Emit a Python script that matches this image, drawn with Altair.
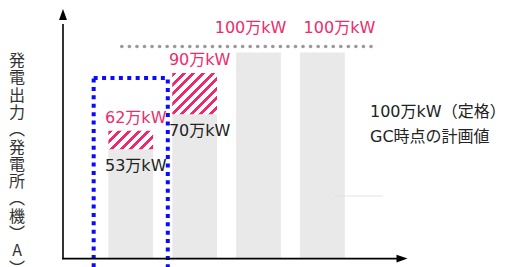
import math
import altair as alt
import pandas as pd

# ---- data ----
stages = ["①", "②", "③", "④"]
base_values = [53, 70, 100, 100]        # 万kW (grey part)
upper_values = [62, 90, None, None]     # 万kW (hatched top)
rated_output = 100                      # 万kW（定格）
focus_stage = "①"

df = pd.DataFrame({
    "stage": stages,
    "idx": list(range(1, len(stages) + 1)),
    "base": base_values,
    "upper": upper_values,
})
df["base_label"] = [f"{v}万kW" for v in base_values]
df["upper_label"] = [f"{v}万kW" if v is not None and not pd.isna(v) else "" for v in upper_values]

one = pd.DataFrame({"k": [0]})

# ---- scales (pixel ranges inside the 491x259 canvas) ----
X0, X1 = 55, 397.5
Y0, Y1 = 250.5, 44.5
xs = alt.Scale(domain=[-0.06, 5.3], range=[X0, X1], nice=False, zero=False)
ys = alt.Scale(domain=[0, 100], range=[Y0, Y1], nice=False, zero=False)
px_x = (X1 - X0) / 5.36
px_y = (Y0 - Y1) / 100.0
HALF = 0.35

PINK = "#EE2A6B"
GREY = "#E9E9E9"
BLUE = "#0A0AFF"
TXT = "#222222"
FONT = "DejaVu Sans, Noto Sans CJK JP"
CJK = "Noto Sans CJK JP"


def hatch(W, H, period=6.8, duty=0.42, off=0.02):
    k = (W + H) / (W * W + H * H)
    D = (W + H) / math.sqrt(2)
    p = period / D
    stops = []
    n = int(math.ceil(1 / p)) + 2
    for j in range(-1, n):
        s0 = j * p + off * p
        s1 = s0 + duty * p
        s2 = s0 + p
        for a, b, c in ((s0, s1, PINK), (s1, s2, "#FFFFFF")):
            a_ = min(max(a, 0.0), 1.0)
            b_ = min(max(b, 0.0), 1.0)
            if b_ > a_:
                stops.append(alt.GradientStop(offset=round(a_, 4), color=c))
                stops.append(alt.GradientStop(offset=round(b_, 4), color=c))
    return alt.LinearGradient(gradient="linear", stops=stops,
                              x1=0, y1=0, x2=round(k * W, 4), y2=round(k * H, 4))


base = alt.Chart(df).transform_calculate(
    x0=f"datum.idx - {HALF}", x1=f"datum.idx + {HALF}"
)

bars = base.mark_rect(color=GREY).encode(
    x=alt.X("x0:Q", scale=xs, axis=None),
    x2="x1:Q",
    y=alt.Y("base:Q", scale=ys, axis=None),
    y2=alt.datum(0),
)

hatch_layers = []
for i, (b, u) in enumerate(zip(base_values, upper_values)):
    if u is None:
        continue
    W = 2 * HALF * px_x
    H = (u - b) * px_y
    hatch_layers.append(
        base.transform_filter(f"datum.idx == {i + 1}").mark_rect(fill=hatch(W, H)).encode(
            x=alt.X("x0:Q", scale=xs, axis=None),
            x2="x1:Q",
            y=alt.Y("base:Q", scale=ys, axis=None),
            y2="upper:Q",
        )
    )

fi = stages.index(focus_stage) + 1
focus = alt.Chart(one).mark_rect(
    fill="white", fillOpacity=0, stroke=BLUE, strokeWidth=4, strokeDash=[4, 4.4]
).encode(
    x=alt.XDatum(fi - 0.58, scale=xs, axis=None),
    x2=alt.datum(fi + 0.58),
    y=alt.YDatum(87.6, scale=ys, axis=None),
    y2=alt.datum(-8),
)

rated_line = alt.Chart(one).mark_rule(
    color="#9A9A9A", strokeWidth=3.6, strokeDash=[0.1, 7.45], strokeCap="round", yOffset=-6
).encode(
    x=alt.XDatum(0.86, scale=xs, axis=None),
    x2=alt.datum(4.8),
    y=alt.YDatum(rated_output, scale=ys, axis=None),
)

lab_base = base.transform_filter("datum.upper != null").mark_text(
    font=FONT, fontSize=16, color=TXT, align="center", baseline="middle", dx=5, dy=17
).encode(
    x=alt.X("idx:Q", scale=xs, axis=None),
    y=alt.Y("base:Q", scale=ys, axis=None),
    text="base_label:N",
)

lab_upper = base.transform_filter("datum.upper != null").mark_text(
    font=FONT, fontSize=16, color=PINK, align="center", baseline="middle", dx=5, dy=-13
).encode(
    x=alt.X("idx:Q", scale=xs, axis=None),
    y=alt.Y("upper:Q", scale=ys, axis=None),
    text="upper_label:N",
)

# labels of the full-output stages, nudged apart as in the reference
rated_label_dx = {3: -8, 4: 17}
lab_rated = [
    base.transform_filter(f"datum.idx == {k}").mark_text(
        font=FONT, fontSize=16, color=PINK, align="center", baseline="middle", dx=d, dy=-25
    ).encode(
        x=alt.X("idx:Q", scale=xs, axis=None),
        y=alt.Y("base:Q", scale=ys, axis=None),
        text="base_label:N",
    )
    for k, d in rated_label_dx.items()
]

# axes with arrow heads
y_axis = alt.Chart(one).mark_rule(color="black", strokeWidth=1.6).encode(
    x=alt.value(55), y=alt.value(251.3), y2=alt.value(16)
)
x_axis = alt.Chart(one).mark_rule(color="black", strokeWidth=1.6).encode(
    x=alt.value(54.2), x2=alt.value(392), y=alt.value(250.6)
)
y_arrow = alt.Chart(one).mark_point(
    shape="M0,-1L0.72,1L-0.72,1Z", filled=True, color="black", opacity=1, size=121
).encode(x=alt.value(55), y=alt.value(6.5))
x_arrow = alt.Chart(one).mark_point(
    shape="M1,0L-1,0.72L-1,-0.72Z", filled=True, color="black", opacity=1, size=121
).encode(x=alt.value(394), y=alt.value(250.6))

title_chars = ["発", "電", "出", "力", "︵", "発", "電", "所", "︵", "機", "︶", "A", "︶"]
y_title = alt.Chart(one).mark_text(
    font=CJK, fontSize=16, color="#333333", align="center", baseline="top",
    lineBreak="\n", lineHeight=17.3
).encode(x=alt.value(9), y=alt.value(45), text=alt.value("\n".join(title_chars)))

note_lines = ["100万kW（定格）", "GC時点の計画値"]
note = alt.Chart(one).mark_text(
    font=FONT, fontSize=16, color=TXT, align="left", baseline="top",
    lineBreak="\n", lineHeight=25
).encode(x=alt.value(362), y=alt.value(96), text=alt.value("\n".join(note_lines)))

connector = alt.Chart(one).mark_rule(color="#E4E4E4", strokeWidth=1.2).encode(
    x=alt.value(326), x2=alt.value(375), y=alt.value(188)
)

chart = alt.layer(
    bars, *hatch_layers, connector, rated_line, focus, lab_base, lab_upper, *lab_rated,
    y_axis, x_axis, y_arrow, x_arrow, y_title, note
).properties(
    width=491, height=259,
    autosize=alt.AutoSizeParams(type="none"),
    padding=0,
    background="white",
).configure_view(stroke=None)

chart.save("out.html", embed_options={"renderer": "svg", "actions": False})
